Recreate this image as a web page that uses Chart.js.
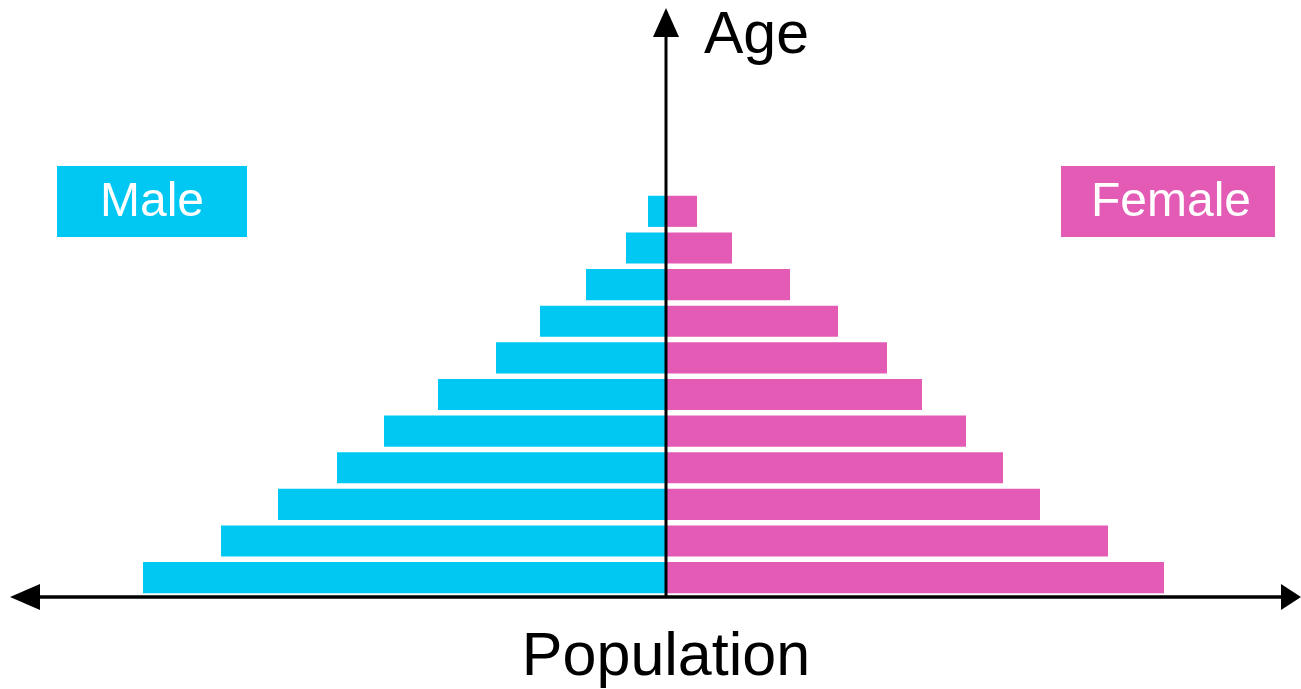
<!DOCTYPE html>
<html>
<head>
<meta charset="utf-8">
<style>
  html, body { margin: 0; padding: 0; background: #fff; }
  #wrap { width: 1301px; height: 689px; }
</style>
<script src="https://cdn.jsdelivr.net/npm/chart.js@4/dist/chart.umd.min.js"></script>
</head>
<body>
<div id="wrap"><canvas id="pyramid"></canvas></div>
<script>
// age groups, youngest at the bottom
const ageGroups = ['0-9', '10-19', '20-29', '30-39', '40-49', '50-59', '60-69', '70-79', '80-89', '90-99', '100+'];
// population (arbitrary units)
const male   = [523, 445, 388, 329, 282, 228, 170, 126, 80, 40, 18];
const female = [498, 442, 374, 337, 300, 256, 221, 172, 124, 66, 31];

const maleColor = '#00c8f2';
const femaleColor = '#e35bb4';

// arrows, axis titles and the two name boxes
const decorations = {
  id: 'decorations',
  afterDraw(chart) {
    const ctx = chart.ctx;
    const x0 = chart.scales.x.getPixelForValue(0);
    const yBase = 597;
    ctx.save();
    ctx.fillStyle = '#000';
    ctx.strokeStyle = '#000';
    ctx.lineWidth = 3.5;

    // horizontal axis
    ctx.beginPath();
    ctx.moveTo(30, yBase);
    ctx.lineTo(1285, yBase);
    ctx.stroke();
    ctx.beginPath();
    ctx.moveTo(10, yBase); ctx.lineTo(40, yBase - 13); ctx.lineTo(40, yBase + 13); ctx.closePath();
    ctx.fill();
    ctx.beginPath();
    ctx.moveTo(1301, yBase); ctx.lineTo(1281, yBase - 13); ctx.lineTo(1281, yBase + 13); ctx.closePath();
    ctx.fill();

    // vertical axis
    ctx.lineWidth = 3;
    ctx.beginPath();
    ctx.moveTo(x0, yBase);
    ctx.lineTo(x0, 30);
    ctx.stroke();
    ctx.beginPath();
    ctx.moveTo(x0, 8); ctx.lineTo(x0 - 13, 37); ctx.lineTo(x0 + 13, 37); ctx.closePath();
    ctx.fill();

    ctx.font = '59px "Liberation Sans", Arial, sans-serif';
    ctx.textBaseline = 'alphabetic';
    ctx.textAlign = 'left';
    ctx.fillText('Age', 704, 53);
    ctx.textAlign = 'center';
    ctx.font = '61px "Liberation Sans", Arial, sans-serif';
    ctx.fillText('Population', 666, 675);

    // name boxes
    ctx.fillStyle = maleColor;
    ctx.fillRect(57, 166, 190, 71);
    ctx.fillStyle = femaleColor;
    ctx.fillRect(1061, 166, 214, 71);
    ctx.fillStyle = '#fff';
    ctx.font = '48px "Liberation Sans", Arial, sans-serif';
    ctx.textBaseline = 'alphabetic';
    ctx.fillText('Male', 152, 216);
    ctx.fillText('Female', 1171, 216);
    ctx.restore();
  }
};

new Chart(document.getElementById('pyramid'), {
  type: 'bar',
  data: {
    labels: ageGroups,
    datasets: [
      { label: 'Male', data: male.map(v => -v), backgroundColor: maleColor, barPercentage: 0.85, categoryPercentage: 1 },
      { label: 'Female', data: female, backgroundColor: femaleColor, barPercentage: 0.85, categoryPercentage: 1 }
    ]
  },
  options: {
    indexAxis: 'y',
    responsive: true,
    maintainAspectRatio: false,
    animation: false,
    layout: { padding: { top: 193, bottom: 93, left: 0, right: 0 } },
    scales: {
      x: { display: false, stacked: true, min: -666, max: 635 },
      y: { display: false, stacked: true, reverse: true }
    },
    plugins: {
      legend: { display: false },
      tooltip: { enabled: false }
    }
  },
  plugins: [decorations]
});
</script>
</body>
</html>
